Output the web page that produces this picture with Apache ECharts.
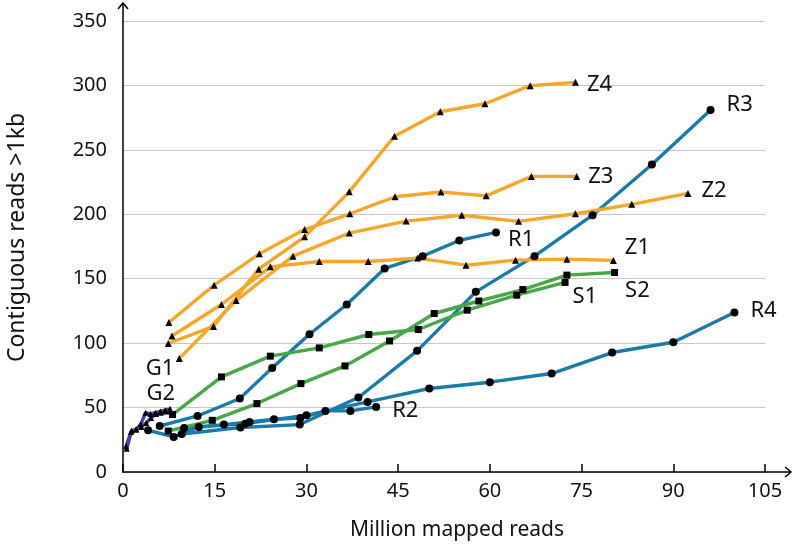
<!DOCTYPE html>
<html><head><meta charset="utf-8">
<script src="https://cdn.jsdelivr.net/npm/echarts@6/dist/echarts.min.js"></script>
<style>html,body{margin:0;padding:0;background:#fff}#c{width:796px;height:546px}</style>
</head><body><div id="c"></div>
<script>
// ---- data (x = million mapped reads, y = contiguous reads >1kb) ----
const xTicks = [0, 15, 30, 45, 60, 75, 90, 105];
const yTicks = [0, 50, 100, 150, 200, 250, 300, 350];

const Z1 = [[8.0,105.5],[16.1,130],[24.1,159.2],[32.1,163.4],[40.1,163.4],[48.2,166],[56.1,160.5],[64.2,164.4],[72.6,165.2],[80.2,164.2]];
const Z2 = [[9.2,88],[18.5,133],[27.8,167.5],[37.0,185.4],[46.3,194.7],[55.4,199.3],[64.7,194.5],[74.0,200.4],[83.2,207.7],[92.4,216.2]];
const Z3 = [[7.5,116],[14.9,145],[22.3,169.3],[29.7,188.2],[37.1,200.4],[44.5,213.6],[52.0,217.3],[59.4,214.3],[66.8,229.4],[74.2,229.4]];
const Z4 = [[7.4,99.7],[14.8,113],[22.2,157.4],[29.7,182.5],[37.0,217.4],[44.4,260.6],[51.9,279.6],[59.2,285.8],[66.6,299.8],[74.0,302.4]];

const R1 = [[6.0,35.7],[12.2,43.5],[19.1,57],[24.4,80.8],[30.5,106.9],[36.6,130],[42.8,158],[49.0,167.5],[55.0,179.7],[61.0,185.9]];
const R2 = [[4.1,32.4],[8.3,27.2],[12.4,35],[16.5,36.8],[20.7,38.8],[24.7,40.9],[29.0,41.9],[33.1,47.4],[37.2,47.4],[41.4,50.5]];
const R3 = [[9.6,29.5],[19.2,34.5],[28.9,36.8],[38.5,57.8],[48.1,94],[57.7,139.8],[67.3,167.5],[76.8,199.3],[86.5,238.7],[96.1,280.9]];
const R4 = [[10.0,34.2],[20.0,37.5],[30.0,44],[40.0,54.4],[50.1,64.8],[60.0,69.7],[70.1,76.4],[80.0,92.7],[90.0,100.7],[100.0,123.8]];

const S1 = [[8.1,44.6],[16.1,73.8],[24.1,89.9],[32.1,96.3],[40.2,106.7],[48.3,110.6],[56.3,125.6],[64.4,137.2],[72.3,147.1]];
const S2 = [[7.4,31.8],[14.6,40.1],[21.9,53.1],[29.1,68.6],[36.3,82.3],[43.6,101.7],[50.9,123],[58.2,132.7],[65.4,141.6],[72.6,152.8],[80.4,154.8]];

const G1 = [[0.5,20],[1.3,31],[2.1,33],[2.9,37],[3.7,46],[4.5,45],[5.3,46],[6.1,47],[6.9,48],[7.7,49]];
const G2 = [[0.6,18],[1.4,32],[2.2,33],[3.0,35],[3.8,38],[4.6,42],[5.4,45],[6.2,46],[7.0,47],[7.8,47]];

// ---- styling ----
const ORANGE = '#F5A72A', BLUE = '#1A7BAA', GREEN = '#47A847', PURPLE = '#4B3F9E';
const FONT = 'Noto Sans';

function mk(name, data, color, symbol, size, lab) {
  const last = data.length - 1;
  return {
    type: 'line', name: name,
    data: data.map((d, i) => i === last ? {
      value: d,
      label: Object.assign({show: true, formatter: name, color: '#111', fontSize: 22, fontFamily: FONT}, lab)
    } : d),
    symbol: symbol, symbolSize: size, showSymbol: true,
    itemStyle: {color: '#000'},
    lineStyle: {color: color, width: 3.4},
    label: {show: false},
    z: 3, animation: false
  };
}

const series = [
  mk('R1', R1, BLUE, 'circle', 8, {position: 'right', distance: 8, offset: [0, 7]}),
  mk('R2', R2, BLUE, 'circle', 8, {position: 'right', distance: 12, offset: [0, 4]}),
  mk('R3', R3, BLUE, 'circle', 8, {position: 'right', distance: 12, offset: [0, -5]}),
  mk('R4', R4, BLUE, 'circle', 8, {position: 'right', distance: 12, offset: [0, -2]}),
  mk('S1', S1, GREEN, 'rect', 7, {position: 'right', distance: 4, offset: [0, 14]}),
  mk('S2', S2, GREEN, 'rect', 7, {position: 'right', distance: 7, offset: [0, 18]}),
  mk('Z1', Z1, ORANGE, 'triangle', 7, {position: 'right', distance: 8, offset: [0, -13]}),
  mk('Z2', Z2, ORANGE, 'triangle', 7, {position: 'right', distance: 10, offset: [0, -3]}),
  mk('Z3', Z3, ORANGE, 'triangle', 7, {position: 'right', distance: 8, offset: [0, 0]}),
  mk('Z4', Z4, ORANGE, 'triangle', 7, {position: 'right', distance: 8, offset: [0, 2]}),
  mk('G1', G1, PURPLE, 'triangle', 6, {position: 'top', distance: 0, offset: [-10, -26]}),
  mk('G2', G2, PURPLE, 'triangle', 6, {position: 'top', distance: 0, offset: [-10, -4]})
];

const chart = echarts.init(document.getElementById('c'), null, {renderer: 'canvas'});
chart.setOption({
  backgroundColor: '#fff',
  animation: false,
  grid: {left: 123, right: 31, top: 21, bottom: 74, containLabel: false, outerBoundsMode: 'none'},
  xAxis: {
    type: 'value', min: xTicks[0], max: xTicks[xTicks.length - 1], interval: 15,
    name: 'Million mapped reads', nameLocation: 'middle', nameGap: 48,
    nameTextStyle: {fontSize: 21, fontFamily: FONT, color: '#111', padding: [0, 0, 0, 26]},
    axisLine: {show: true, lineStyle: {color: '#000', width: 1.5}},
    axisTick: {show: true, inside: true, length: 8, lineStyle: {color: '#000', width: 1.5}},
    axisLabel: {fontSize: 20, fontFamily: FONT, color: '#111', margin: 9,
      formatter: v => xTicks.indexOf(v) >= 0 ? String(v) : ''},
    splitLine: {show: false}
  },
  yAxis: {
    type: 'value', min: yTicks[0], max: yTicks[yTicks.length - 1], interval: 50,
    name: 'Contiguous reads >1kb', nameLocation: 'middle', nameGap: 94, nameRotate: 90,
    nameTextStyle: {fontSize: 23, fontFamily: FONT, color: '#111', padding: [0, 0, 0, 18]},
    axisLine: {show: true, lineStyle: {color: '#000', width: 1.5}},
    axisTick: {show: false},
    axisLabel: {fontSize: 20, fontFamily: FONT, color: '#111', margin: 16},
    splitLine: {show: true, lineStyle: {color: '#c6c6c6', width: 1.2}}
  },
  series: series
});

// axis arrows extending beyond the plotted range
const pX = chart.convertToPixel({gridIndex: 0}, [xTicks[xTicks.length - 1], 0]);
const pY = chart.convertToPixel({gridIndex: 0}, [0, yTicks[yTicks.length - 1]]);
const ex = pX[0] + 26, ey = pY[1] - 18;
chart.setOption({
  graphic: [
    {type: 'line', shape: {x1: pX[0], y1: pX[1], x2: ex, y2: pX[1]}, style: {stroke: '#000', lineWidth: 1.5}, z: 10},
    {type: 'polyline', shape: {points: [[ex - 6, pX[1] - 5], [ex, pX[1]], [ex - 6, pX[1] + 5]]}, style: {stroke: '#000', lineWidth: 1.5, fill: null}, z: 10},
    {type: 'line', shape: {x1: pY[0], y1: pY[1], x2: pY[0], y2: ey}, style: {stroke: '#000', lineWidth: 1.5}, z: 10},
    {type: 'polyline', shape: {points: [[pY[0] - 5, ey + 6], [pY[0], ey], [pY[0] + 5, ey + 6]]}, style: {stroke: '#000', lineWidth: 1.5, fill: null}, z: 10}
  ]
});
</script>
</body></html>
